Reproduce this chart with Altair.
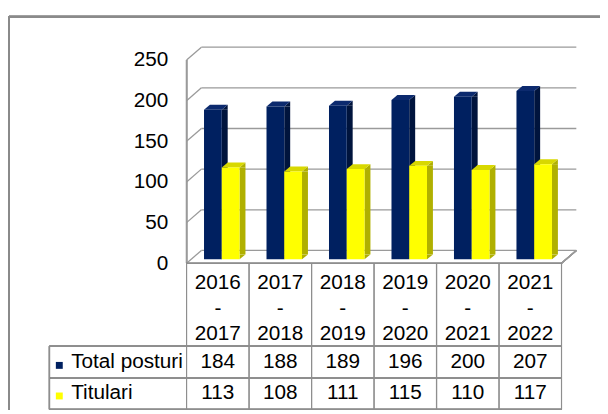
import altair as alt
import pandas as pd

# ---------------- data ----------------
categories = ["2016-2017", "2017-2018", "2018-2019", "2019-2020", "2020-2021", "2021-2022"]
year_start = ["2016", "2017", "2018", "2019", "2020", "2021"]
year_end = ["2017", "2018", "2019", "2020", "2021", "2022"]
total_posturi = [184, 188, 189, 196, 200, 207]
titulari = [113, 108, 111, 115, 110, 117]
series_names = ["Total posturi", "Titulari"]
y_ticks = [0, 50, 100, 150, 200, 250]

wide = pd.DataFrame({"cat": categories, "start": year_start, "end": year_end,
                     "total": total_posturi, "tit": titulari})
long = pd.DataFrame({
    "cat": categories * 2,
    "series": [series_names[0]] * len(categories) + [series_names[1]] * len(categories),
    "value": total_posturi + titulari,
})
ticks_df = pd.DataFrame({"v": y_ticks})

# ---------------- style / geometry ----------------
FONT = "Liberation Sans"
FS = 21
W, H = 380, 206          # front plane of the 3D plot
DX, DY = 15, 13          # wall depth
BASE = -4                # bar base offset from front floor line
BW, SW, TD = 18, 6, 5    # bar front width, side width, top depth
GRID = "#9a9a9a"
TBL = "#8e8e8e"
PL, PT = 181, 50         # padding left / top
colors = {
    "Total posturi": ("#002060", "#00143d", "#0c2a6e"),
    "Titulari": ("#ffff00", "#b0b000", "#d8d800"),
}

x_scale = alt.Scale(type="band", domain=categories, paddingInner=0, paddingOuter=0)
y_scale = alt.Scale(domain=[0, 250], nice=False)
x_enc = alt.X("cat:N", scale=x_scale, axis=None, sort=categories)

layers = []

# outer frame (top and left edges)
FX, FY = 1 - PL, 6 - PT
layers.append(alt.Chart(ticks_df).mark_rule(color="#8a8a8a", strokeWidth=1.8).encode(
    x=alt.value(FX), x2=alt.value(FX + 620), y=alt.value(FY)))
layers.append(alt.Chart(ticks_df).mark_rule(color="#8a8a8a", strokeWidth=1.8).encode(
    x=alt.value(FX), y=alt.value(FY), y2=alt.value(FY + 420)))

# back wall gridlines with y axis labels
layers.append(alt.Chart(ticks_df).mark_rule(color=GRID, strokeWidth=1.3, yOffset=-DY).encode(
    y=alt.Y("v:Q", scale=y_scale,
            axis=alt.Axis(values=y_ticks, domain=False, ticks=False, tickSize=0, grid=False,
                          labelFont=FONT, labelFontSize=FS, labelColor="black",
                          labelPadding=19, title=None)),
    x=alt.value(DX), x2=alt.value(W + DX)))
# side wall diagonals
layers.append(alt.Chart(ticks_df).mark_rule(color=GRID, strokeWidth=1.3, y2Offset=-DY).encode(
    y=alt.Y("v:Q", scale=y_scale), y2=alt.Y2("v"), x=alt.value(0), x2=alt.value(DX)))
# front-left vertical edge
layers.append(alt.Chart(ticks_df).mark_rule(color=GRID, strokeWidth=1.3).encode(
    x=alt.value(0), y=alt.value(0), y2=alt.value(H)))
# floor right diagonal
layers.append(alt.Chart(ticks_df).mark_rule(color=GRID, strokeWidth=1.3).encode(
    x=alt.value(W), x2=alt.value(W + DX), y=alt.value(H), y2=alt.value(H - DY)))

# 3D bars
for i, s in enumerate(series_names):
    front, side, top = colors[s]
    xl = -14 + BW * i
    xr = xl + BW
    d = alt.Chart(long).transform_filter(alt.datum.series == s)
    layers.append(d.mark_bar(width=SW, xOffset=xr + SW / 2, yOffset=BASE, y2Offset=BASE - TD,
                             color=side).encode(
        x=x_enc, y=alt.Y("value:Q", scale=y_scale), y2=alt.datum(0)))
    layers.append(d.mark_point(shape=f"M{xr},0L{xr + SW},{-TD}L{xr + SW},0Z", size=4, filled=True,
                               opacity=1, color=side, strokeWidth=0, yOffset=BASE).encode(
        x=x_enc, y=alt.Y("value:Q", scale=y_scale)))
    layers.append(d.mark_point(shape=f"M{xr},{-TD}L{xr},0L{xr + SW},{-TD}Z", size=4, filled=True,
                               opacity=1, color=side, strokeWidth=0, yOffset=BASE).encode(
        x=x_enc, y=alt.datum(0)))
    layers.append(d.mark_point(shape=f"M{xl},0L{xr},0L{xr + SW},{-TD}L{xl + SW},{-TD}Z", size=4,
                               filled=True, opacity=1, color=top, strokeWidth=0,
                               yOffset=BASE).encode(
        x=x_enc, y=alt.Y("value:Q", scale=y_scale)))
    layers.append(d.mark_bar(width=BW, xOffset=xl + BW / 2, yOffset=BASE, y2Offset=BASE,
                             color=front).encode(
        x=x_enc, y=alt.Y("value:Q", scale=y_scale), y2=alt.datum(0)))

# data table lines
TL, R1, R2, R3 = 50 - 8 - PL, 290, 322.5, 354
layers.append(alt.Chart(ticks_df).mark_rule(color=TBL, strokeWidth=1.2).encode(
    x=alt.value(0), x2=alt.value(W), y=alt.value(H)))
for yy in (R1, R2, R3):
    layers.append(alt.Chart(ticks_df).mark_rule(color=TBL, strokeWidth=1.2).encode(
        x=alt.value(TL), x2=alt.value(W), y=alt.value(yy)))
layers.append(alt.Chart(ticks_df).mark_rule(color=TBL, strokeWidth=1.2).encode(
    x=alt.value(TL), y=alt.value(R1), y2=alt.value(R3)))
for bp in (0, 1):
    layers.append(alt.Chart(wide).mark_rule(color=TBL, strokeWidth=1.2).encode(
        x=alt.X("cat:N", scale=x_scale, axis=None, sort=categories, bandPosition=bp),
        y=alt.value(H), y2=alt.value(R3)))

# data table text
txt = dict(font=FONT, fontSize=FS, color="black", baseline="middle")
layers.append(alt.Chart(wide).mark_text(**txt).encode(x=x_enc, y=alt.value(226), text="start:N"))
layers.append(alt.Chart(wide).mark_text(**txt).encode(x=x_enc, y=alt.value(252), text=alt.value("-")))
layers.append(alt.Chart(wide).mark_text(**txt).encode(x=x_enc, y=alt.value(278), text="end:N"))
layers.append(alt.Chart(wide).mark_text(**txt).encode(x=x_enc, y=alt.value(306.5), text="total:Q"))
layers.append(alt.Chart(wide).mark_text(**txt).encode(x=x_enc, y=alt.value(337.5), text="tit:Q"))

# legend keys in table
leg = pd.DataFrame({"series": series_names})
for s, yy in zip(series_names, (306.5, 337.5)):
    ls = alt.Chart(leg).transform_filter(alt.datum.series == s)
    layers.append(ls.mark_text(align="left", **txt).encode(
        x=alt.value(72 - 8 - PL), y=alt.value(yy), text="series:N"))
    layers.append(ls.mark_square(size=49, opacity=1, color=colors[s][0]).encode(
        x=alt.value(60 - 8 - PL), y=alt.value(yy + 3)))

chart = alt.layer(*layers).properties(
    width=W, height=H,
    padding={"left": PL, "top": PT, "right": 600 - PL - W, "bottom": 402 - PT - H},
    autosize=alt.AutoSizeParams(type="none"),
).configure_view(strokeWidth=0)

chart.save("out.html", embed_options={"renderer": "svg", "actions": False})
